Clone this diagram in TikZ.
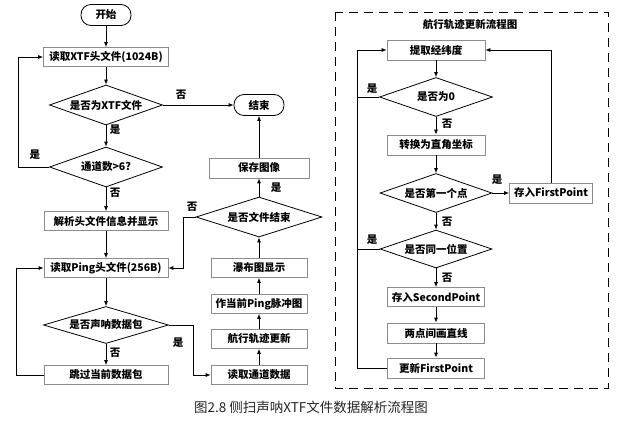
\documentclass[tikz,border=0pt]{standalone}
\usepackage{fontspec}
\setmainfont{Noto Sans CJK SC}
\usetikzlibrary{shapes.geometric,arrows.meta}
\begin{document}
\begin{tikzpicture}[x=1pt,y=-1pt,
 font=\fontsize{10.5}{12}\selectfont\bfseries,
 box/.style={draw=black!45, line width=0.7pt, rectangle, inner sep=0pt, minimum height=19pt},
 term/.style={draw=black, line width=0.8pt, rounded corners=10pt, inner sep=0pt, minimum width=50pt, minimum height=21pt},
 dia/.style={draw=black, line width=0.8pt, diamond, aspect=3, inner sep=0pt},
 arr/.style={-{Latex[length=5pt,width=4pt]}, line width=0.8pt},
 ln/.style={line width=0.8pt},
 lab/.style={inner sep=0pt}]
\useasboundingbox (0,0) rectangle (625,437);
\fill[white] (0,0) rectangle (625,437);
% left column
\node[term] (start) at (106,15) {开始};
\node[box, minimum width=125pt] (read1) at (106,57) {读取XTF头文件(1024B)};
\node[dia, minimum width=113pt, minimum height=40pt] (d1) at (106,105) {是否为XTF文件};
\node[dia, minimum width=113pt, minimum height=40pt] (d2) at (106,167) {通道数>6?};
\node[box, minimum width=124pt] (parse) at (106,221) {解析头文件信息并显示};
\node[box, minimum width=124pt] (ping) at (106,268) {读取Ping头文件(256B)};
\node[dia, minimum width=125pt, minimum height=37pt] (d3) at (106,325) {是否声呐数据包};
\node[box, minimum width=124pt] (skip) at (106,375) {跳过当前数据包};
% middle column
\node[term] (end) at (259,105) {结束};
\node[box, minimum width=100pt, minimum height=20pt] (save) at (259,168) {保存图像};
\node[dia, minimum width=126pt, minimum height=40pt] (d4) at (259,217) {是否文件结束};
\node[box, minimum width=96pt] (wf) at (259,268) {瀑布图显示};
\node[box, minimum width=96pt] (pulse) at (259,304) {作当前Ping脉冲图};
\node[box, minimum width=96pt] (track) at (259,339) {航行轨迹更新};
\node[box, minimum width=96pt] (readch) at (259,375) {读取通道数据};
% right panel
\draw[line width=0.8pt, dash pattern=on 9pt off 6pt] (335,12) rectangle (608,388);
\node (ttl) at (470,25) {航行轨迹更新流程图};
\node[box, minimum width=98pt, minimum height=20pt] (ext) at (436,50) {提取经纬度};
\node[dia, minimum width=113pt, minimum height=39pt] (dz) at (436,97) {是否为0};
\node[box, minimum width=98pt, minimum height=20pt] (conv) at (436,145) {转换为直角坐标};
\node[dia, minimum width=112pt, minimum height=39pt] (df) at (436,193) {是否第一个点};
\node[box, minimum width=83pt, minimum height=20pt] (sf) at (551,193) {存入FirstPoint};
\node[dia, minimum width=112pt, minimum height=38pt] (ds) at (436,249) {是否同一位置};
\node[box, minimum width=97pt] (s2) at (436,297) {存入SecondPoint};
\node[box, minimum width=97pt, minimum height=20pt] (ln2) at (436,333) {两点间画直线};
\node[box, minimum width=97pt, minimum height=20pt] (upd) at (436,368) {更新FirstPoint};
% left connectors
\draw[arr] (start) -- (read1);
\draw[arr] (read1) -- (d1);
\draw[arr] (d1) -- (d2);
\draw[arr] (d2) -- (parse);
\draw[arr] (d2.west) -- (18,167) |- (read1.west);
\draw[arr] (d1.east) -- (end.west);
\draw[arr] (parse) -- (ping);
\draw[arr] (ping) -- (d3);
\draw[arr] (d3) -- (skip);
\draw[arr] (skip.west) -- (16,375) |- (ping.west);
\draw[arr] (d3.east) -- (193,325) |- (readch.west);
\draw[arr] (d4.west) -- (183,217) |- (ping.east);
% middle connectors
\draw[arr] (readch) -- (track);
\draw[arr] (track) -- (pulse);
\draw[arr] (pulse) -- (wf);
\draw[arr] (wf) -- (d4);
\draw[arr] (d4) -- (save);
\draw[arr] (save) -- (end);
% right connectors
\draw[arr] (ext) -- (dz);
\draw[arr] (dz) -- (conv);
\draw[arr] (conv) -- (df);
\draw[arr] (df.east) -- (sf.west);
\draw[arr] (sf.north) |- (ext.east);
\draw[arr] (df) -- (ds);
\draw[arr] (ds) -- (s2);
\draw[arr] (s2) -- (ln2);
\draw[arr] (ln2) -- (upd);
\draw[arr] (upd.west) -- (357,368) |- (ext.west);
\draw[ln] (dz.west) -- (357,97);
\draw[ln] (ds.west) -- (357,249);
% labels
\node[lab] (l1) at (115,130) {是};
\node[lab] (l2) at (115,193) {否};
\node[lab] (l3) at (35,155) {是};
\node[lab] (l4) at (181,95) {否};
\node[lab] (l5) at (115,353) {否};
\node[lab] (l6) at (178,343) {是};
\node[lab] (l7) at (192,207) {否};
\node[lab] (l8) at (276,188) {是};
\node[lab] (r1) at (372,89) {是};
\node[lab] (r2) at (447,124) {否};
\node[lab] (r3) at (497,180) {是};
\node[lab] (r4) at (447,222) {否};
\node[lab] (r5) at (372,240) {是};
\node[lab] (r6) at (447,278) {否};
% caption
\node[font=\fontsize{13.5}{15}\selectfont, text=black!85] (cap) at (311,407) {图2.8 侧扫声呐XTF文件数据解析流程图};
\end{tikzpicture}
\end{document}
